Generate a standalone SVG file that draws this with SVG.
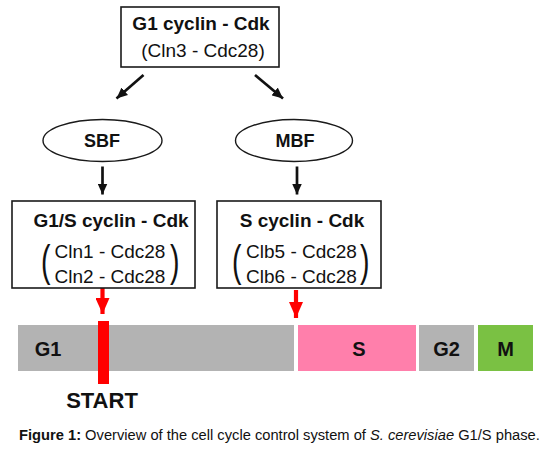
<svg xmlns="http://www.w3.org/2000/svg" width="546" height="450" viewBox="0 0 546 450">
<defs>
<style>
.box{fill:#fff;stroke:#1a1a1a;stroke-width:1.6}
.ell{fill:#fff;stroke:#1a1a1a;stroke-width:1.4}
.t{font-family:"Liberation Sans",Arial,sans-serif;fill:#111}
.b{font-weight:bold}
.title{font-size:19px;font-weight:bold;text-anchor:middle}
.sub{font-size:19px;text-anchor:middle}
.par{font-size:19px}
.node{font-size:18px;font-weight:bold;text-anchor:middle}
.phase{font-size:20px;font-weight:bold;text-anchor:middle}
.blk{stroke:#111;stroke-width:2.7;fill:none;marker-end:url(#ah)}
.red{stroke:#ff0000;stroke-width:4.2;fill:none;marker-end:url(#rh)}
</style>
<marker id="ah" markerUnits="userSpaceOnUse" viewBox="0 0 11 10" markerWidth="11" markerHeight="10" refX="11" refY="5" orient="auto">
<path d="M0,0 L11,5 L0,10 z" fill="#111"/>
</marker>
<marker id="rh" markerUnits="userSpaceOnUse" viewBox="0 0 16 14" markerWidth="16" markerHeight="14" refX="16" refY="7" orient="auto">
<path d="M0,0 L16,7 L0,14 z" fill="#ff0000"/>
</marker>
</defs>
<rect width="546" height="450" fill="#fff"/>

<g id="connectors">
<line class="blk" x1="143.5" y1="75" x2="116.5" y2="98.5"/>
<line class="blk" x1="255" y1="75" x2="283" y2="98.5"/>
<line class="blk" x1="102.5" y1="166.5" x2="102.5" y2="194.5"/>
<line class="blk" x1="297" y1="166.5" x2="297" y2="194.5"/>
<line class="red" x1="102.5" y1="287" x2="102.5" y2="314"/>
<line class="red" x1="296" y1="290" x2="296" y2="318"/>
</g>

<g id="g1cdk">
<rect class="box" x="121" y="7" width="158" height="60"/>
<text class="t title" x="201" y="30">G1 cyclin - Cdk</text>
<text class="t sub" x="203" y="57">(Cln3 - Cdc28)</text>
</g>

<g id="sbf">
<ellipse class="ell" cx="102.5" cy="140.5" rx="59.5" ry="21"/>
<text class="t node" x="102" y="147">SBF</text>
</g>

<g id="mbf">
<ellipse class="ell" cx="294" cy="140.5" rx="58.5" ry="21"/>
<text class="t node" x="295" y="147">MBF</text>
</g>

<g id="g1s">
<rect class="box" x="12" y="201" width="183" height="87"/>
<text class="t title" x="111" y="227">G1/S cyclin - Cdk</text>
<text class="t sub" x="110" y="258">Cln1 - Cdc28</text>
<text class="t sub" x="110" y="283">Cln2 - Cdc28</text>
<text class="t par" transform="translate(41,276) scale(1.5,2.3)">(</text>
<text class="t par" transform="translate(170,276) scale(1.5,2.3)">)</text>
</g>

<g id="scdk">
<rect class="box" x="217" y="201" width="164" height="87"/>
<text class="t title" x="302" y="227">S cyclin - Cdk</text>
<text class="t sub" x="301.5" y="258">Clb5 - Cdc28</text>
<text class="t sub" x="301.5" y="283">Clb6 - Cdc28</text>
<text class="t par" transform="translate(232,276) scale(1.5,2.3)">(</text>
<text class="t par" transform="translate(360,276) scale(1.5,2.3)">)</text>
</g>

<g id="cycle">
<rect x="18" y="325" width="276" height="46" fill="#b3b3b3"/>
<rect x="298" y="325" width="118" height="46" fill="#ff7fab"/>
<rect x="419" y="325" width="55" height="46" fill="#b3b3b3"/>
<rect x="478" y="325" width="55" height="46" fill="#7ac143"/>
<text class="t phase" x="48" y="356">G1</text>
<text class="t phase" x="359" y="356">S</text>
<text class="t phase" x="446.5" y="356">G2</text>
<text class="t phase" x="505.5" y="356">M</text>
</g>

<g id="start">
<rect x="98" y="321" width="11" height="63" fill="#ff0000"/>
<text class="t b" x="102" y="408" font-size="22" text-anchor="middle">START</text>
</g>

<text class="t" x="19" y="440" font-size="14.7"><tspan font-weight="bold">Figure 1:</tspan> Overview of the cell cycle control system of <tspan font-style="italic">S. cerevisiae</tspan> G1/S phase.</text>
</svg>
